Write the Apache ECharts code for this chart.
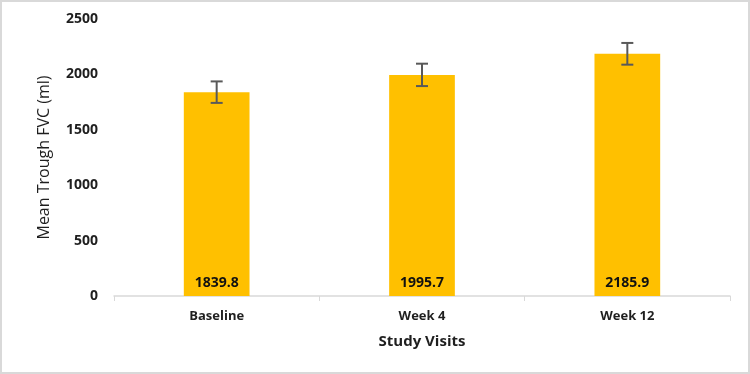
<!DOCTYPE html>
<html>
<head>
<meta charset="utf-8">
<script src="https://cdn.jsdelivr.net/npm/echarts@6/dist/echarts.min.js"></script>
<style>
  html, body { margin: 0; padding: 0; background: #fff; }
  #main { width: 750px; height: 374px; box-sizing: border-box; border: 2px solid #d9d9d9; }
</style>
</head>
<body>
<div id="main"></div>
<script>
// data
var visits = ['Baseline', 'Week 4', 'Week 12'];
var meanFvc = [1839.8, 1995.7, 2185.9];
var errFvc = [97, 101, 98];
var yTicks = [0, 500, 1000, 1500, 2000, 2500];

var chart = echarts.init(document.getElementById('main'));

// error bar rows: [category index, low, high]
var errRows = visits.map(function (v, i) {
  return [i, meanFvc[i] - errFvc[i], meanFvc[i] + errFvc[i]];
});

var font = '"Open Sans", "Liberation Sans", sans-serif';

chart.setOption({
  animation: false,
  textStyle: { fontFamily: font },
  grid: { left: 112, right: 18, top: 17, bottom: 76 },
  xAxis: {
    type: 'category',
    data: visits,
    name: 'Study Visits',
    nameLocation: 'middle',
    nameGap: 38,
    nameTextStyle: { fontFamily: font, fontSize: 15, fontWeight: 'bold', color: '#1f1f1f' },
    axisLine: { lineStyle: { color: '#d9d9d9', width: 1.5 } },
    axisTick: { show: true, length: 5, lineStyle: { color: '#d9d9d9' } },
    axisLabel: { fontFamily: font, fontSize: 13, fontWeight: 'bold', color: '#1f1f1f', margin: 14 }
  },
  yAxis: {
    type: 'value',
    min: yTicks[0],
    max: yTicks[yTicks.length - 1],
    interval: yTicks[1] - yTicks[0],
    name: 'Mean Trough FVC (ml)',
    nameLocation: 'middle',
    nameGap: 62,
    nameTextStyle: { fontFamily: font, fontSize: 16, color: '#1f1f1f' },
    axisLine: { show: false },
    axisTick: { show: false },
    splitLine: { show: false },
    axisLabel: {
      fontFamily: font, fontSize: 14, fontWeight: 'bold', color: '#1f1f1f', margin: 16,
      formatter: function (v) { return String(v); }
    }
  },
  series: [
    {
      type: 'bar',
      data: meanFvc,
      barWidth: '32%',
      itemStyle: { color: '#FFC000' },
      label: {
        show: true,
        position: 'insideBottom',
        distance: 6,
        fontFamily: font,
        fontSize: 14,
        fontWeight: 'bold',
        color: '#111',
        formatter: function (p) { return p.value.toFixed(1); }
      }
    },
    {
      type: 'custom',
      data: errRows,
      z: 5,
      renderItem: function (params, api) {
        var lo = api.coord([api.value(0), api.value(1)]);
        var hi = api.coord([api.value(0), api.value(2)]);
        var w = 6;
        var st = { stroke: '#595959', lineWidth: 2 };
        return {
          type: 'group',
          children: [
            { type: 'line', shape: { x1: hi[0], y1: hi[1], x2: lo[0], y2: lo[1] }, style: st },
            { type: 'line', shape: { x1: hi[0] - w, y1: hi[1], x2: hi[0] + w, y2: hi[1] }, style: st },
            { type: 'line', shape: { x1: lo[0] - w, y1: lo[1], x2: lo[0] + w, y2: lo[1] }, style: st }
          ]
        };
      }
    }
  ]
});
window.onresize = chart.resize;
</script>
</body>
</html>
